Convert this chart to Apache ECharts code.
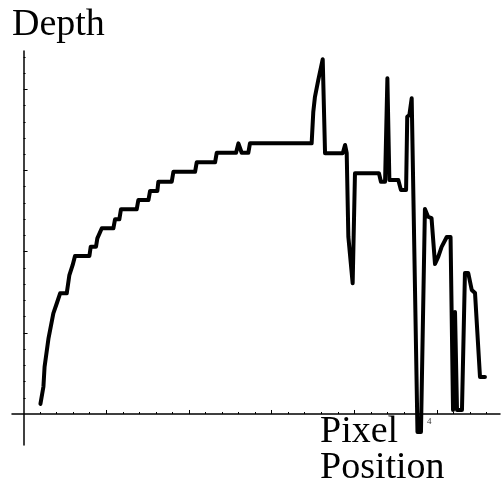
<!DOCTYPE html>
<html>
<head>
<meta charset="utf-8">
<script src="https://cdn.jsdelivr.net/npm/echarts@6/dist/echarts.min.js"></script>
<style>
  html, body { margin: 0; padding: 0; background: #fff; }
  #chart { width: 501px; height: 489px; }
</style>
</head>
<body>
<div id="chart"></div>
<script>
// pixel position (x) and depth (y)
const pixelPos = [1.02, 1.20, 1.27, 1.51, 1.80, 2.01, 2.21, 2.61, 2.77, 2.97,
    3.11, 3.98, 4.06, 4.38, 4.46, 4.73, 5.43, 5.53, 5.79, 5.89,
    6.84, 6.94, 7.55, 7.65, 8.09, 8.15, 8.96, 9.06, 10.37, 10.47,
    11.58, 11.68, 12.85, 12.99, 13.19, 13.59, 13.69, 17.42, 17.52, 17.62,
    17.82, 18.09, 18.23, 19.30, 19.44, 19.54, 19.64, 19.90, 20.04, 21.49,
    21.61, 21.86, 22.00, 22.12, 22.66, 22.82, 23.13, 23.20, 23.33, 23.47,
    23.82, 24.03, 24.27, 24.46, 24.67, 24.88, 25.08, 25.28, 25.59, 25.82,
    25.97, 26.09, 26.21, 26.51, 26.69, 26.89, 27.10, 27.30, 27.60, 27.90];
const depth = [0.62, 1.68, 2.91, 4.68, 6.20, 6.82, 7.43, 7.43, 8.56, 9.18,
    9.73, 9.73, 10.30, 10.30, 10.82, 11.44, 11.44, 11.99, 11.99, 12.61,
    12.61, 13.18, 13.18, 13.74, 13.74, 14.31, 14.31, 14.92, 14.92, 15.50,
    15.50, 16.09, 16.09, 16.67, 16.09, 16.09, 16.67, 16.67, 18.62, 19.54,
    20.57, 21.85, 16.06, 16.06, 16.57, 16.08, 10.92, 8.05, 14.83, 14.83,
    14.31, 14.31, 20.68, 14.41, 14.41, 13.80, 13.80, 18.31, 18.42, 19.45,
    -1.11, -1.11, 12.63, 12.15, 12.07, 9.24, 9.69, 10.29, 10.90, 10.90,
    0.25, 6.28, 0.25, 0.25, 8.68, 8.68, 7.64, 7.45, 2.28, 2.28];

const xMinorTicks = [1, 2, 3, 4, 6, 7, 8, 9, 11, 12, 13, 14, 16, 17, 18, 19, 21, 22, 23, 24, 26, 27, 28];
const xMajorTicks = [5, 10, 15, 20, 25];
const yMinorTicks = [1, 2, 3, 4, 6, 7, 8, 9, 11, 12, 13, 14, 16, 17, 18, 19, 21, 22];
const yMajorTicks = [5, 10, 15, 20];

const xMin = -0.7, xMax = 28.81;
const yMin = -1.91, yMax = 22.36;

const chart = echarts.init(document.getElementById('chart'));

const points = pixelPos.map((x, i) => [x, depth[i]]);

function makeAxis(ticks, len, showLine, min, max, pos) {
    return {
        type: 'value',
        min: min,
        max: max,
        position: pos,
        axisLine: {show: showLine, onZero: true, lineStyle: {color: '#000', width: 1.5}},
        axisTick: {show: true, inside: true, length: len, customValues: ticks,
            lineStyle: {color: '#000', width: 1}},
        axisLabel: {show: false},
        splitLine: {show: false}
    };
}

const option = {
    animation: false,
    grid: {left: 12, right: 1, top: 51, bottom: 44, containLabel: false},
    xAxis: [
        makeAxis(xMinorTicks, 2, true, xMin, xMax, 'bottom'),
        makeAxis(xMajorTicks, 4, false, xMin, xMax, 'bottom')
    ],
    yAxis: [
        makeAxis(yMinorTicks, 2, true, yMin, yMax, 'left'),
        makeAxis(yMajorTicks, 4, false, yMin, yMax, 'left')
    ],
    graphic: [
        {type: 'text', left: 12, top: 6,
            style: {text: 'Depth', font: '38px "Liberation Serif"', fill: '#000'}},
        {type: 'text', left: 320, top: 413,
            style: {text: 'Pixel', font: '38px "Liberation Serif"', fill: '#000'}},
        {type: 'text', left: 320, top: 449,
            style: {text: 'Position', font: '38px "Liberation Serif"', fill: '#000'}},
        {type: 'text', left: 427, top: 417,
            style: {text: '4', font: '9px "Liberation Serif"', fill: '#333'}}
    ],
    series: [
        {
            type: 'line',
            data: points,
            xAxisIndex: 0,
            yAxisIndex: 0,
            showSymbol: false,
            lineStyle: {color: '#000', width: 4, join: 'round', cap: 'round'}
        }
    ]
};
chart.setOption(option);
</script>
</body>
</html>
